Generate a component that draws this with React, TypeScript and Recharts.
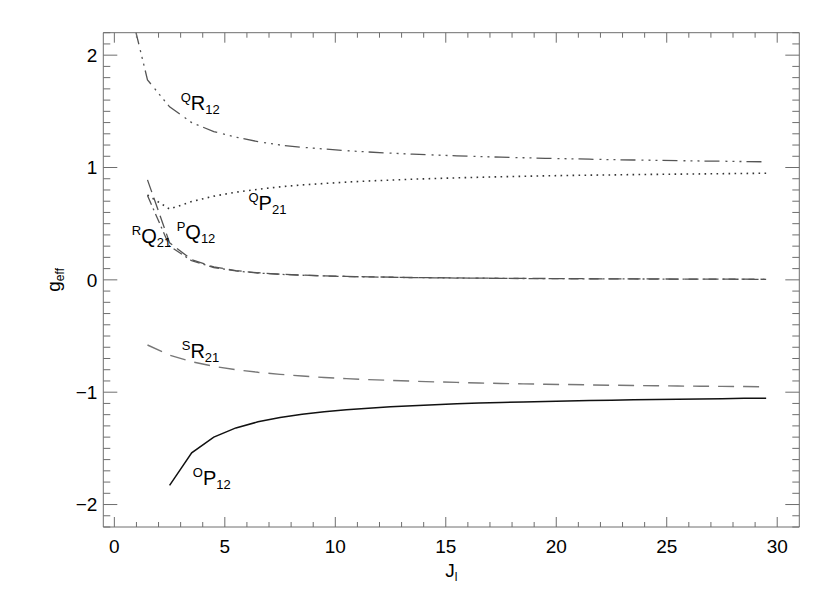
import React from 'react';
import { LineChart, Line, XAxis, YAxis, ReferenceDot } from 'recharts';

// Rotational quantum number J (half-integer values)
const J = [0.5, 1.5, 2.5, 3.5, 4.5, 5.5, 6.5, 7.5, 8.5, 9.5, 10.5, 11.5, 12.5, 13.5, 14.5, 15.5, 16.5, 17.5, 18.5, 19.5, 20.5, 21.5, 22.5, 23.5, 24.5, 25.5, 26.5, 27.5, 28.5, 29.5];

const QR12 = [2.59, 1.78, 1.54, 1.40, 1.32, 1.27, 1.23, 1.20, 1.18, 1.165, 1.15, 1.138, 1.128, 1.119, 1.111, 1.104, 1.098, 1.092, 1.087, 1.082, 1.078, 1.074, 1.070, 1.067, 1.064, 1.061, 1.058, 1.056, 1.053, 1.051];
const QP21 = [null, 0.755, 0.63, 0.697, 0.745, 0.78, 0.806, 0.828, 0.845, 0.858, 0.87, 0.88, 0.888, 0.896, 0.902, 0.908, 0.913, 0.918, 0.922, 0.926, 0.929, 0.932, 0.934, 0.937, 0.939, 0.941, 0.943, 0.945, 0.947, 0.949];
const PQ12 = [null, 0.89, 0.33, 0.18, 0.115, 0.082, 0.063, 0.05, 0.042, 0.036, 0.031, 0.027, 0.024, 0.021, 0.019, 0.017, 0.015, 0.014, 0.013, 0.012, 0.011, 0.010, 0.009, 0.008, 0.008, 0.007, 0.007, 0.006, 0.006, 0.005];
const RQ21 = [null, 0.75, 0.30, 0.17, 0.11, 0.079, 0.061, 0.049, 0.041, 0.035, 0.030, 0.026, 0.023, 0.020, 0.018, 0.016, 0.015, 0.013, 0.012, 0.011, 0.010, 0.009, 0.009, 0.008, 0.007, 0.007, 0.006, 0.006, 0.005, 0.005];
const SR21 = [null, -0.58, -0.67, -0.729, -0.77, -0.80, -0.823, -0.841, -0.856, -0.869, -0.879, -0.888, -0.895, -0.902, -0.908, -0.913, -0.918, -0.922, -0.926, -0.929, -0.932, -0.935, -0.938, -0.94, -0.943, -0.945, -0.947, -0.948, -0.95, -0.952];
const OP12 = [null, null, -1.83, -1.54, -1.40, -1.318, -1.264, -1.225, -1.197, -1.174, -1.157, -1.142, -1.13, -1.12, -1.111, -1.104, -1.097, -1.092, -1.087, -1.082, -1.078, -1.074, -1.071, -1.068, -1.065, -1.062, -1.06, -1.058, -1.055, -1.054];

const X_DOMAIN = [-0.5, 31];
const Y_DOMAIN = [-2.2, 2.2];
const X_MAJOR = [0, 5, 10, 15, 20, 25, 30];
const Y_MAJOR = [-2, -1, 0, 1, 2];
const X_TICKS = Array.from({ length: 31 }, (_, i) => i);
const Y_TICKS = Array.from({ length: 45 }, (_, i) => Math.round(i - 22) / 10);

// Branch labels: superscript, letter, subscript, anchor position (data coords)
const LABELS = [
  { sup: 'Q', main: 'R', sub: '12', x: 3.0, y: 1.51 },
  { sup: 'Q', main: 'P', sub: '21', x: 6.07, y: 0.62 },
  { sup: 'R', main: 'Q', sub: '21', x: 0.79, y: 0.327 },
  { sup: 'P', main: 'Q', sub: '12', x: 2.82, y: 0.363 },
  { sup: 'S', main: 'R', sub: '21', x: 3.05, y: -0.696 },
  { sup: 'O', main: 'P', sub: '12', x: 3.55, y: -1.826 },
];

const data = J.map((j, i) => ({
  J: j,
  QR12: QR12[i],
  QP21: QP21[i],
  PQ12: PQ12[i],
  RQ21: RQ21[i],
  SR21: SR21[i],
  OP12: OP12[i],
}));

const FONT = '"Liberation Sans", Arial, Helvetica, sans-serif';
const AXIS = '#6e6e6e';
const TICK_FS = 19;

const isXMajor = (v: number) => X_MAJOR.some((m) => Math.abs(m - v) < 1e-6);
const isYMajor = (v: number) => Y_MAJOR.some((m) => Math.abs(m - v) < 1e-6);
const fmt = (v: number) => (v < 0 ? '\u2212' + Math.abs(v) : String(v));

const BottomTick = (p: any) => {
  const v = p.payload.value;
  const major = isXMajor(v);
  return (
    <g>
      <line x1={p.x} x2={p.x} y1={p.y} y2={p.y - (major ? 10 : 5)} stroke={AXIS} strokeWidth={1} />
      {major && (
        <text x={p.x} y={p.y + 26} textAnchor="middle" fontSize={TICK_FS} fontFamily={FONT} fill="#000">
          {fmt(v)}
        </text>
      )}
    </g>
  );
};

const TopTick = (p: any) => {
  const v = p.payload.value;
  const major = isXMajor(v);
  return <line x1={p.x} x2={p.x} y1={p.y} y2={p.y + (major ? 10 : 5)} stroke={AXIS} strokeWidth={1} />;
};

const LeftTick = (p: any) => {
  const v = p.payload.value;
  const major = isYMajor(v);
  return (
    <g>
      <line x1={p.x} x2={p.x + (major ? 14 : 7)} y1={p.y} y2={p.y} stroke={AXIS} strokeWidth={1} />
      {major && (
        <text x={p.x - 6} y={p.y + TICK_FS * 0.36} textAnchor="end" fontSize={TICK_FS} fontFamily={FONT} fill="#000">
          {fmt(v)}
        </text>
      )}
    </g>
  );
};

const RightTick = (p: any) => {
  const v = p.payload.value;
  const major = isYMajor(v);
  return <line x1={p.x} x2={p.x - (major ? 14 : 7)} y1={p.y} y2={p.y} stroke={AXIS} strokeWidth={1} />;
};

const makeLabelShape = (l: any) => (p: any) => (
  <text x={p.cx} y={p.cy} fontFamily={FONT} fill="#000">
    <tspan fontSize={13} dy={-8}>{l.sup}</tspan>
    <tspan fontSize={20} dy={8}>{l.main}</tspan>
    <tspan fontSize={13} dy={4}>{l.sub}</tspan>
  </text>
);

const XTitle = (p: any) => (
  <text x={p.cx} y={p.cy + 50} textAnchor="middle" fontFamily={FONT} fill="#000">
    <tspan fontSize={19}>J</tspan>
    <tspan fontSize={12} dy={4}>l</tspan>
  </text>
);

const YTitle = (p: any) => {
  const x = p.cx - 43;
  const y = p.cy;
  return (
    <text x={x} y={y} transform={`rotate(-90 ${x} ${y})`} textAnchor="middle" fontFamily={FONT} fill="#000">
      <tspan fontSize={19}>g</tspan>
      <tspan fontSize={12} dy={4}>eff</tspan>
    </text>
  );
};

export default function App() {
  return (
    <div style={{ width: 814, height: 577 }}>
      <LineChart
        width={814}
        height={577}
        data={data}
        margin={{ top: 23.7, right: 21.7, bottom: 8, left: 35.3 }}
      >
        <XAxis
          xAxisId={0}
          dataKey="J"
          type="number"
          domain={X_DOMAIN}
          allowDataOverflow
          ticks={X_TICKS}
          interval={0}
          tickSize={0}
          tickMargin={0}
          tickLine={false}
          tick={<BottomTick />}
          axisLine={{ stroke: AXIS }}
          height={50}
        />
        <XAxis
          xAxisId="top"
          orientation="top"
          dataKey="J"
          type="number"
          domain={X_DOMAIN}
          allowDataOverflow
          ticks={X_TICKS}
          interval={0}
          tickSize={0}
          tickMargin={0}
          tickLine={false}
          tick={<TopTick />}
          axisLine={{ stroke: AXIS }}
          height={1}
        />
        <YAxis
          yAxisId={0}
          type="number"
          domain={Y_DOMAIN}
          allowDataOverflow
          ticks={Y_TICKS}
          interval={0}
          tickSize={0}
          tickMargin={0}
          tickLine={false}
          tick={<LeftTick />}
          axisLine={{ stroke: AXIS }}
          width={60}
        />
        <YAxis
          yAxisId="right"
          orientation="right"
          type="number"
          domain={Y_DOMAIN}
          allowDataOverflow
          ticks={Y_TICKS}
          interval={0}
          tickSize={0}
          tickMargin={0}
          tickLine={false}
          tick={<RightTick />}
          axisLine={{ stroke: AXIS }}
          width={1}
        />
        <Line dataKey="QR12" stroke="#555" strokeWidth={1.3} strokeDasharray="15 6 2 5 2 5 2 5" dot={false} isAnimationActive={false} />
        <Line dataKey="QP21" stroke="#333" strokeWidth={1.6} strokeDasharray="1.6 4.4" dot={false} isAnimationActive={false} />
        <Line dataKey="PQ12" stroke="#555" strokeWidth={1.3} strokeDasharray="13 6" dot={false} isAnimationActive={false} />
        <Line dataKey="RQ21" stroke="#555" strokeWidth={1.3} strokeDasharray="10 4 2 4" dot={false} isAnimationActive={false} />
        <Line dataKey="SR21" stroke="#777" strokeWidth={1.4} strokeDasharray="16 9" dot={false} isAnimationActive={false} />
        <Line dataKey="OP12" stroke="#111" strokeWidth={1.5} dot={false} isAnimationActive={false} />
        {LABELS.map((l, i) => (
          <ReferenceDot key={i} x={l.x} y={l.y} r={0} ifOverflow="visible" shape={makeLabelShape(l)} />
        ))}
        <ReferenceDot x={15.25} y={-2.2} r={0} ifOverflow="visible" shape={XTitle} />
        <ReferenceDot x={-0.5} y={0} r={0} ifOverflow="visible" shape={YTitle} />
      </LineChart>
    </div>
  );
}
